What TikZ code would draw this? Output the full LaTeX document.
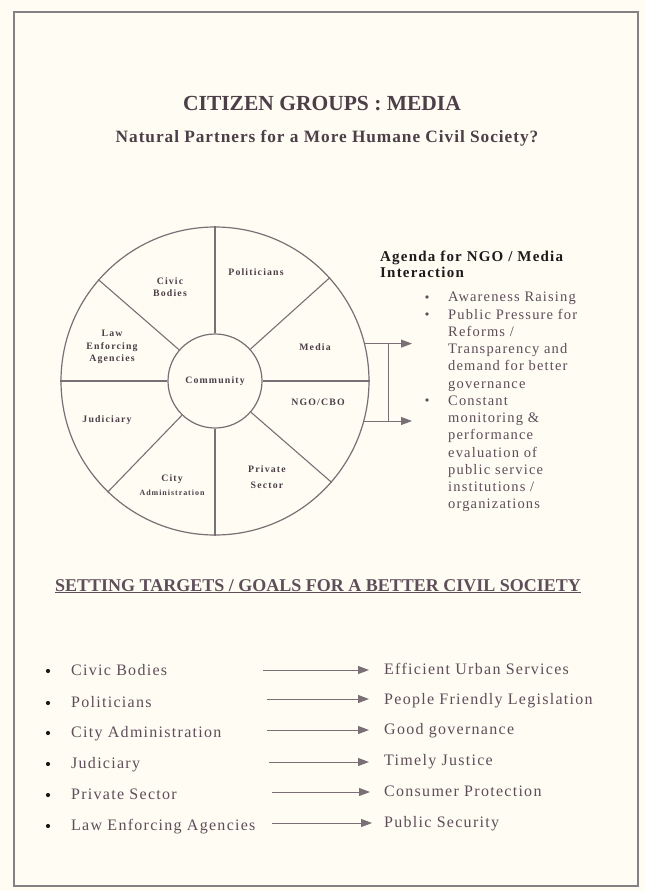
\documentclass[tikz,border=0pt]{standalone}
\usepackage{fontspec}
\setmainfont{Liberation Serif}
\usetikzlibrary{arrows.meta}
\definecolor{bgc}{HTML}{FEFCF3}
\definecolor{framec}{HTML}{858083}
\definecolor{linec}{HTML}{7A6F75}
\definecolor{titlec}{HTML}{4C3F48}
\definecolor{txtc}{HTML}{5E4E5A}
\definecolor{darkc}{HTML}{1E1A1C}
\begin{document}
\begin{tikzpicture}[x=1pt,y=-1pt,
  wl/.style={inner sep=0, align=center, text=titlec,
    font=\fontsize{9.8}{12.5}\selectfont\bfseries\addfontfeature{LetterSpace=12}},
  spoke/.style={draw=linec, line width=1.1pt},
  ring/.style={circle, draw=linec, line width=1.2pt, inner sep=0},
  aline/.style={draw=linec, line width=1pt},
  gar/.style={draw=linec, line width=1pt, -{Triangle[length=11pt,width=8pt]}},
  lt/.style={anchor=base west, inner sep=0, text=txtc,
    font=\fontsize{16}{19}\selectfont\addfontfeature{LetterSpace=8}},
  dot/.style={circle, fill=darkc, inner sep=0, minimum size=4.2pt},
  sdot/.style={circle, fill=txtc, inner sep=0, minimum size=3.6pt}]
\useasboundingbox (0,0) rectangle (645,891);
\fill[bgc] (0,0) rectangle (645,891);
\draw[framec, line width=1.8pt] (14,12) rectangle (638,886);

% titles
\node[anchor=base, inner sep=0, text=titlec, font=\fontsize{21.5}{24}\selectfont\bfseries] (title) at (322,110) {CITIZEN GROUPS : MEDIA};
\node[anchor=base, inner sep=0, text=titlec, font=\fontsize{17.3}{20}\selectfont\bfseries\addfontfeature{LetterSpace=5.5}] (sub) at (327,142) {Natural Partners for a More Humane Civil Society?};

% wheel
\node[ring, minimum size=308pt] (wheel) at (215,381) {};
\node[ring, minimum size=94pt, font=\fontsize{9.8}{12}\selectfont\bfseries\addfontfeature{LetterSpace=12}, text=titlec] (comm) at (215,381) {Community};
\foreach \a in {0,42,90,139,180,226,270,319}
  \draw[spoke] (comm.\a) -- (wheel.\a);

\node[wl] (pol) at (256,272) {Politicians};
\node[wl] (civic) at (170,287) {Civic\\Bodies};
\node[wl] (media) at (315,347) {Media};
\node[wl] (law) at (112,347) {Law\\Enforcing\\Agencies};
\node[wl] (ngo) at (318,402) {NGO/CBO};
\node[wl] (jud) at (107,420) {Judiciary};
\node[wl] (city) at (172,479) {City};
\node[wl, font=\fontsize{8}{10}\selectfont\bfseries\addfontfeature{LetterSpace=12}] (admin) at (172,493) {Administration};
\node[wl, font=\fontsize{9.8}{16}\selectfont\bfseries\addfontfeature{LetterSpace=12}] (priv) at (267,477) {Private\\Sector};

% arrows to agenda
\coordinate (tipx) at (412,0);
\coordinate (vx) at (388,0);
\draw[gar] (wheel.14) -- (wheel.14 -| tipx);
\draw[gar] (wheel.-15) -- (wheel.-15 -| tipx);
\draw[aline] (wheel.14 -| vx) -- (wheel.-15 -| vx);

% agenda
\node[anchor=base west, inner sep=0, text=darkc, font=\fontsize{15}{18}\selectfont\bfseries\addfontfeature{LetterSpace=8}] (ag1) at (380,261) {Agenda for NGO / Media};
\node[anchor=base west, inner sep=0, text=darkc, font=\fontsize{15}{18}\selectfont\bfseries\addfontfeature{LetterSpace=8}] (ag2) at (380,277) {Interaction};
\node[anchor=north west, inner sep=0, text=txtc, font=\fontsize{14.5}{17.25}\selectfont\addfontfeature{LetterSpace=8}] (aglist) at (448,289.5) {%
\begin{tabular}{@{}l@{}}
Awareness Raising\\
Public Pressure for\\
Reforms /\\
Transparency and\\
demand for better\\
governance\\
Constant\\
monitoring \&\\
performance\\
evaluation of\\
public service\\
institutions /\\
organizations
\end{tabular}};
\node[sdot] (ab1) at (427,297) {};
\node[sdot] (ab2) at (427,314) {};
\node[sdot] (ab3) at (427,400) {};

% bottom heading
\node[anchor=base, inner sep=0, text=txtc, font=\fontsize{18}{21}\selectfont\bfseries] (goals) at (318,591) {\underline{SETTING TARGETS / GOALS FOR A BETTER CIVIL SOCIETY}};

% bottom list
\node[dot] (b1) at (48,671) {};
\node[dot] (b2) at (48,703) {};
\node[dot] (b3) at (48,733) {};
\node[dot] (b4) at (48,764) {};
\node[dot] (b5) at (48,795) {};
\node[dot] (b6) at (48,826) {};
\node[lt] (l1) at (71,675) {Civic Bodies};
\node[lt] (l2) at (71,707) {Politicians};
\node[lt] (l3) at (71,737) {City Administration};
\node[lt] (l4) at (71,768) {Judiciary};
\node[lt] (l5) at (71,799) {Private Sector};
\node[lt] (l6) at (71,830) {Law Enforcing Agencies};
\node[lt] (r1) at (384,674) {Efficient Urban Services};
\node[lt] (r2) at (384,704) {People Friendly Legislation};
\node[lt] (r3) at (384,734) {Good governance};
\node[lt] (r4) at (384,765) {Timely Justice};
\node[lt] (r5) at (384,796) {Consumer Protection};
\node[lt] (r6) at (384,827) {Public Security};
\coordinate (s1) at (263,670);
\coordinate (s2) at (267,699);
\coordinate (s3) at (267,730);
\coordinate (s4) at (269,762);
\coordinate (s5) at (272,792);
\coordinate (s6) at (272,823);
\draw[gar, shorten >=15pt] (s1) -- (r1.west |- s1);
\draw[gar, shorten >=15pt] (s2) -- (r2.west |- s2);
\draw[gar, shorten >=15pt] (s3) -- (r3.west |- s3);
\draw[gar, shorten >=15pt] (s4) -- (r4.west |- s4);
\draw[gar, shorten >=14pt] (s5) -- (r5.west |- s5);
\draw[gar, shorten >=12pt] (s6) -- (r6.west |- s6);
\end{tikzpicture}
\end{document}
